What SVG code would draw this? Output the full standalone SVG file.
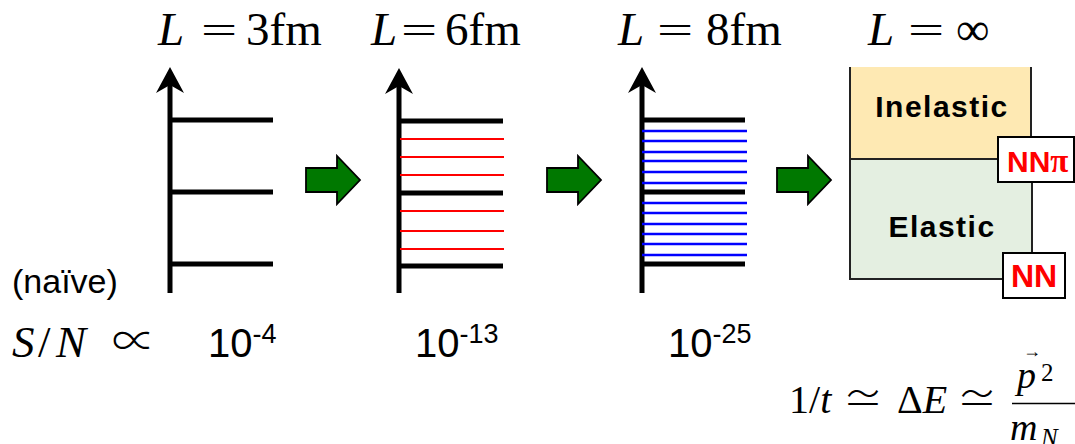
<svg xmlns="http://www.w3.org/2000/svg" xmlns:xlink="http://www.w3.org/1999/xlink" width="1075" height="444" viewBox="0 0 1075 444">
<style>
.ax{stroke:#000;stroke-width:5;fill:none}
.lv{stroke:#000;stroke-width:5;fill:none}
.red{stroke:#ff0000;stroke-width:2}
.blue{stroke:#0000ff;stroke-width:2.5}
.ga{fill:#007800;stroke:#000;stroke-width:1.8;stroke-linejoin:miter}
.math{font-family:"Liberation Serif","DejaVu Serif",serif;fill:#000}
.sym{font-family:"DejaVu Sans","DejaVu Serif",sans-serif;font-weight:200;font-style:normal}
.cjk{font-family:"Noto Sans CJK JP","DejaVu Sans",sans-serif;font-weight:300;font-style:normal}
.it{font-style:italic}
.sans{font-family:"Liberation Sans",Arial,sans-serif;fill:#000}
.bold{font-family:"Liberation Sans",Arial,sans-serif;font-weight:bold}
.box{stroke:#222;stroke-width:2}
.tag{fill:#fff;stroke:#000;stroke-width:2}
</style>
<defs>
<path id="ah" d="M0,0 L14,26 L0,18 L-14,26 Z" fill="#000"/>
<path id="garrow" d="M0,-12 H31 V-24 L54,0 L31,24 V12 H0 Z"/>
</defs>

<g id="title-labels" class="math" font-size="47">
<text y="45"><tspan x="158" class="it">L</tspan><tspan x="199" class="sym" font-size="48">=</tspan><tspan x="246">3fm</tspan></text>
<text y="45"><tspan x="371" class="it">L</tspan><tspan x="399" class="sym" font-size="48">=</tspan><tspan x="445">6fm</tspan></text>
<text y="45"><tspan x="618" class="it">L</tspan><tspan x="655" class="sym" font-size="48">=</tspan><tspan x="706">8fm</tspan></text>
<text y="45"><tspan x="868" class="it">L</tspan><tspan x="906" class="sym" font-size="48">=</tspan><tspan x="956">∞</tspan></text>
</g>

<g id="axis-3fm">
<line class="ax" x1="170" y1="293" x2="170" y2="80"/>
<use xlink:href="#ah" x="170" y="67"/>
<line class="lv" x1="170" y1="120" x2="273" y2="120"/>
<line class="lv" x1="170" y1="192" x2="273" y2="192"/>
<line class="lv" x1="170" y1="264" x2="273" y2="264"/>
</g>

<g id="axis-6fm">
<line class="ax" x1="399" y1="293" x2="399" y2="80"/>
<use xlink:href="#ah" x="399" y="68"/>
<g class="red">
<line x1="400" y1="139" x2="504" y2="139"/>
<line x1="400" y1="157" x2="504" y2="157"/>
<line x1="400" y1="175" x2="504" y2="175"/>
<line x1="400" y1="211" x2="504" y2="211"/>
<line x1="400" y1="231" x2="504" y2="231"/>
<line x1="400" y1="249" x2="504" y2="249"/>
</g>
<line class="lv" x1="399" y1="121" x2="503" y2="121"/>
<line class="lv" x1="399" y1="193" x2="503" y2="193"/>
<line class="lv" x1="399" y1="266" x2="503" y2="266"/>
</g>

<g id="axis-8fm">
<line class="ax" x1="642" y1="293" x2="642" y2="80"/>
<use xlink:href="#ah" x="642" y="67"/>
<g class="blue">
<line x1="642" y1="131" x2="747" y2="131"/>
<line x1="642" y1="141" x2="747" y2="141"/>
<line x1="642" y1="152" x2="747" y2="152"/>
<line x1="642" y1="161" x2="747" y2="161"/>
<line x1="642" y1="172" x2="747" y2="172"/>
<line x1="642" y1="183" x2="747" y2="183"/>
<line x1="642" y1="203" x2="747" y2="203"/>
<line x1="642" y1="213" x2="747" y2="213"/>
<line x1="642" y1="224" x2="747" y2="224"/>
<line x1="642" y1="234" x2="747" y2="234"/>
<line x1="642" y1="244" x2="747" y2="244"/>
<line x1="642" y1="255" x2="747" y2="255"/>
</g>
<line class="lv" x1="642" y1="120" x2="745" y2="120"/>
<line class="lv" x1="642" y1="192" x2="745" y2="192"/>
<line class="lv" x1="642" y1="264" x2="745" y2="264"/>
</g>

<g id="connectors">
<use class="ga" xlink:href="#garrow" transform="translate(306,180)"/>
<use class="ga" xlink:href="#garrow" transform="translate(547,180)"/>
<use class="ga" xlink:href="#garrow" transform="translate(777,180)"/>
</g>

<g id="box-inelastic">
<rect x="850" y="67" width="181" height="92" fill="#fee9b3"/>
<path class="box" fill="none" d="M850,67 V159 H1031 V67"/>
<text class="bold" x="942" y="117" font-size="30" text-anchor="middle" letter-spacing="1.5" fill="#000">Inelastic</text>
</g>

<g id="box-elastic">
<rect class="box" x="850" y="159" width="182" height="120" fill="#e4efe1"/>
<text class="bold" x="942" y="237" font-size="30" text-anchor="middle" letter-spacing="1.5" fill="#000">Elastic</text>
</g>

<g id="tag-nnpi">
<rect class="tag" x="998" y="137" width="76" height="45"/>
<text class="bold" x="1007" y="172" font-size="30" fill="#ff0000">NN<tspan font-family="'Liberation Serif',serif" font-size="33">π</tspan></text>
</g>

<g id="tag-nn">
<rect class="tag" x="1003" y="253" width="62" height="45"/>
<text class="bold" x="1034" y="287" font-size="32" fill="#ff0000" text-anchor="middle">NN</text>
</g>

<g id="sn-row">
<text class="sans" x="12" y="293" font-size="34">(naïve)</text>
<text class="math" y="357" font-size="45"><tspan x="12" class="it">S</tspan><tspan x="38">/</tspan><tspan x="56" class="it">N</tspan><tspan x="112" class="cjk" font-size="44">∝</tspan></text>
<text class="sans" x="208" y="357" font-size="40">10<tspan font-size="27" dy="-14">-4</tspan></text>
<text class="sans" x="415" y="357" font-size="40">10<tspan font-size="27" dy="-14">-13</tspan></text>
<text class="sans" x="668" y="357" font-size="40">10<tspan font-size="27" dy="-14">-25</tspan></text>
</g>

<g id="formula" class="math">
<text y="413" font-size="40"><tspan x="789">1/</tspan><tspan class="it">t</tspan><tspan x="843" class="cjk" font-size="40">≃</tspan><tspan x="897">Δ</tspan><tspan class="it">E</tspan><tspan x="957" class="cjk" font-size="40">≃</tspan></text>
<line x1="1012" y1="403.5" x2="1080" y2="403.5" stroke="#000" stroke-width="1.6"/>
<text x="1017" y="388" font-size="38" class="it">p</text>
<text x="1023" y="357" font-size="18">→</text>
<text x="1041" y="381" font-size="25">2</text>
<text x="1010" y="440" font-size="38" class="it">m</text>
<text x="1041" y="446" font-size="25" class="it">N</text>
</g>
</svg>
